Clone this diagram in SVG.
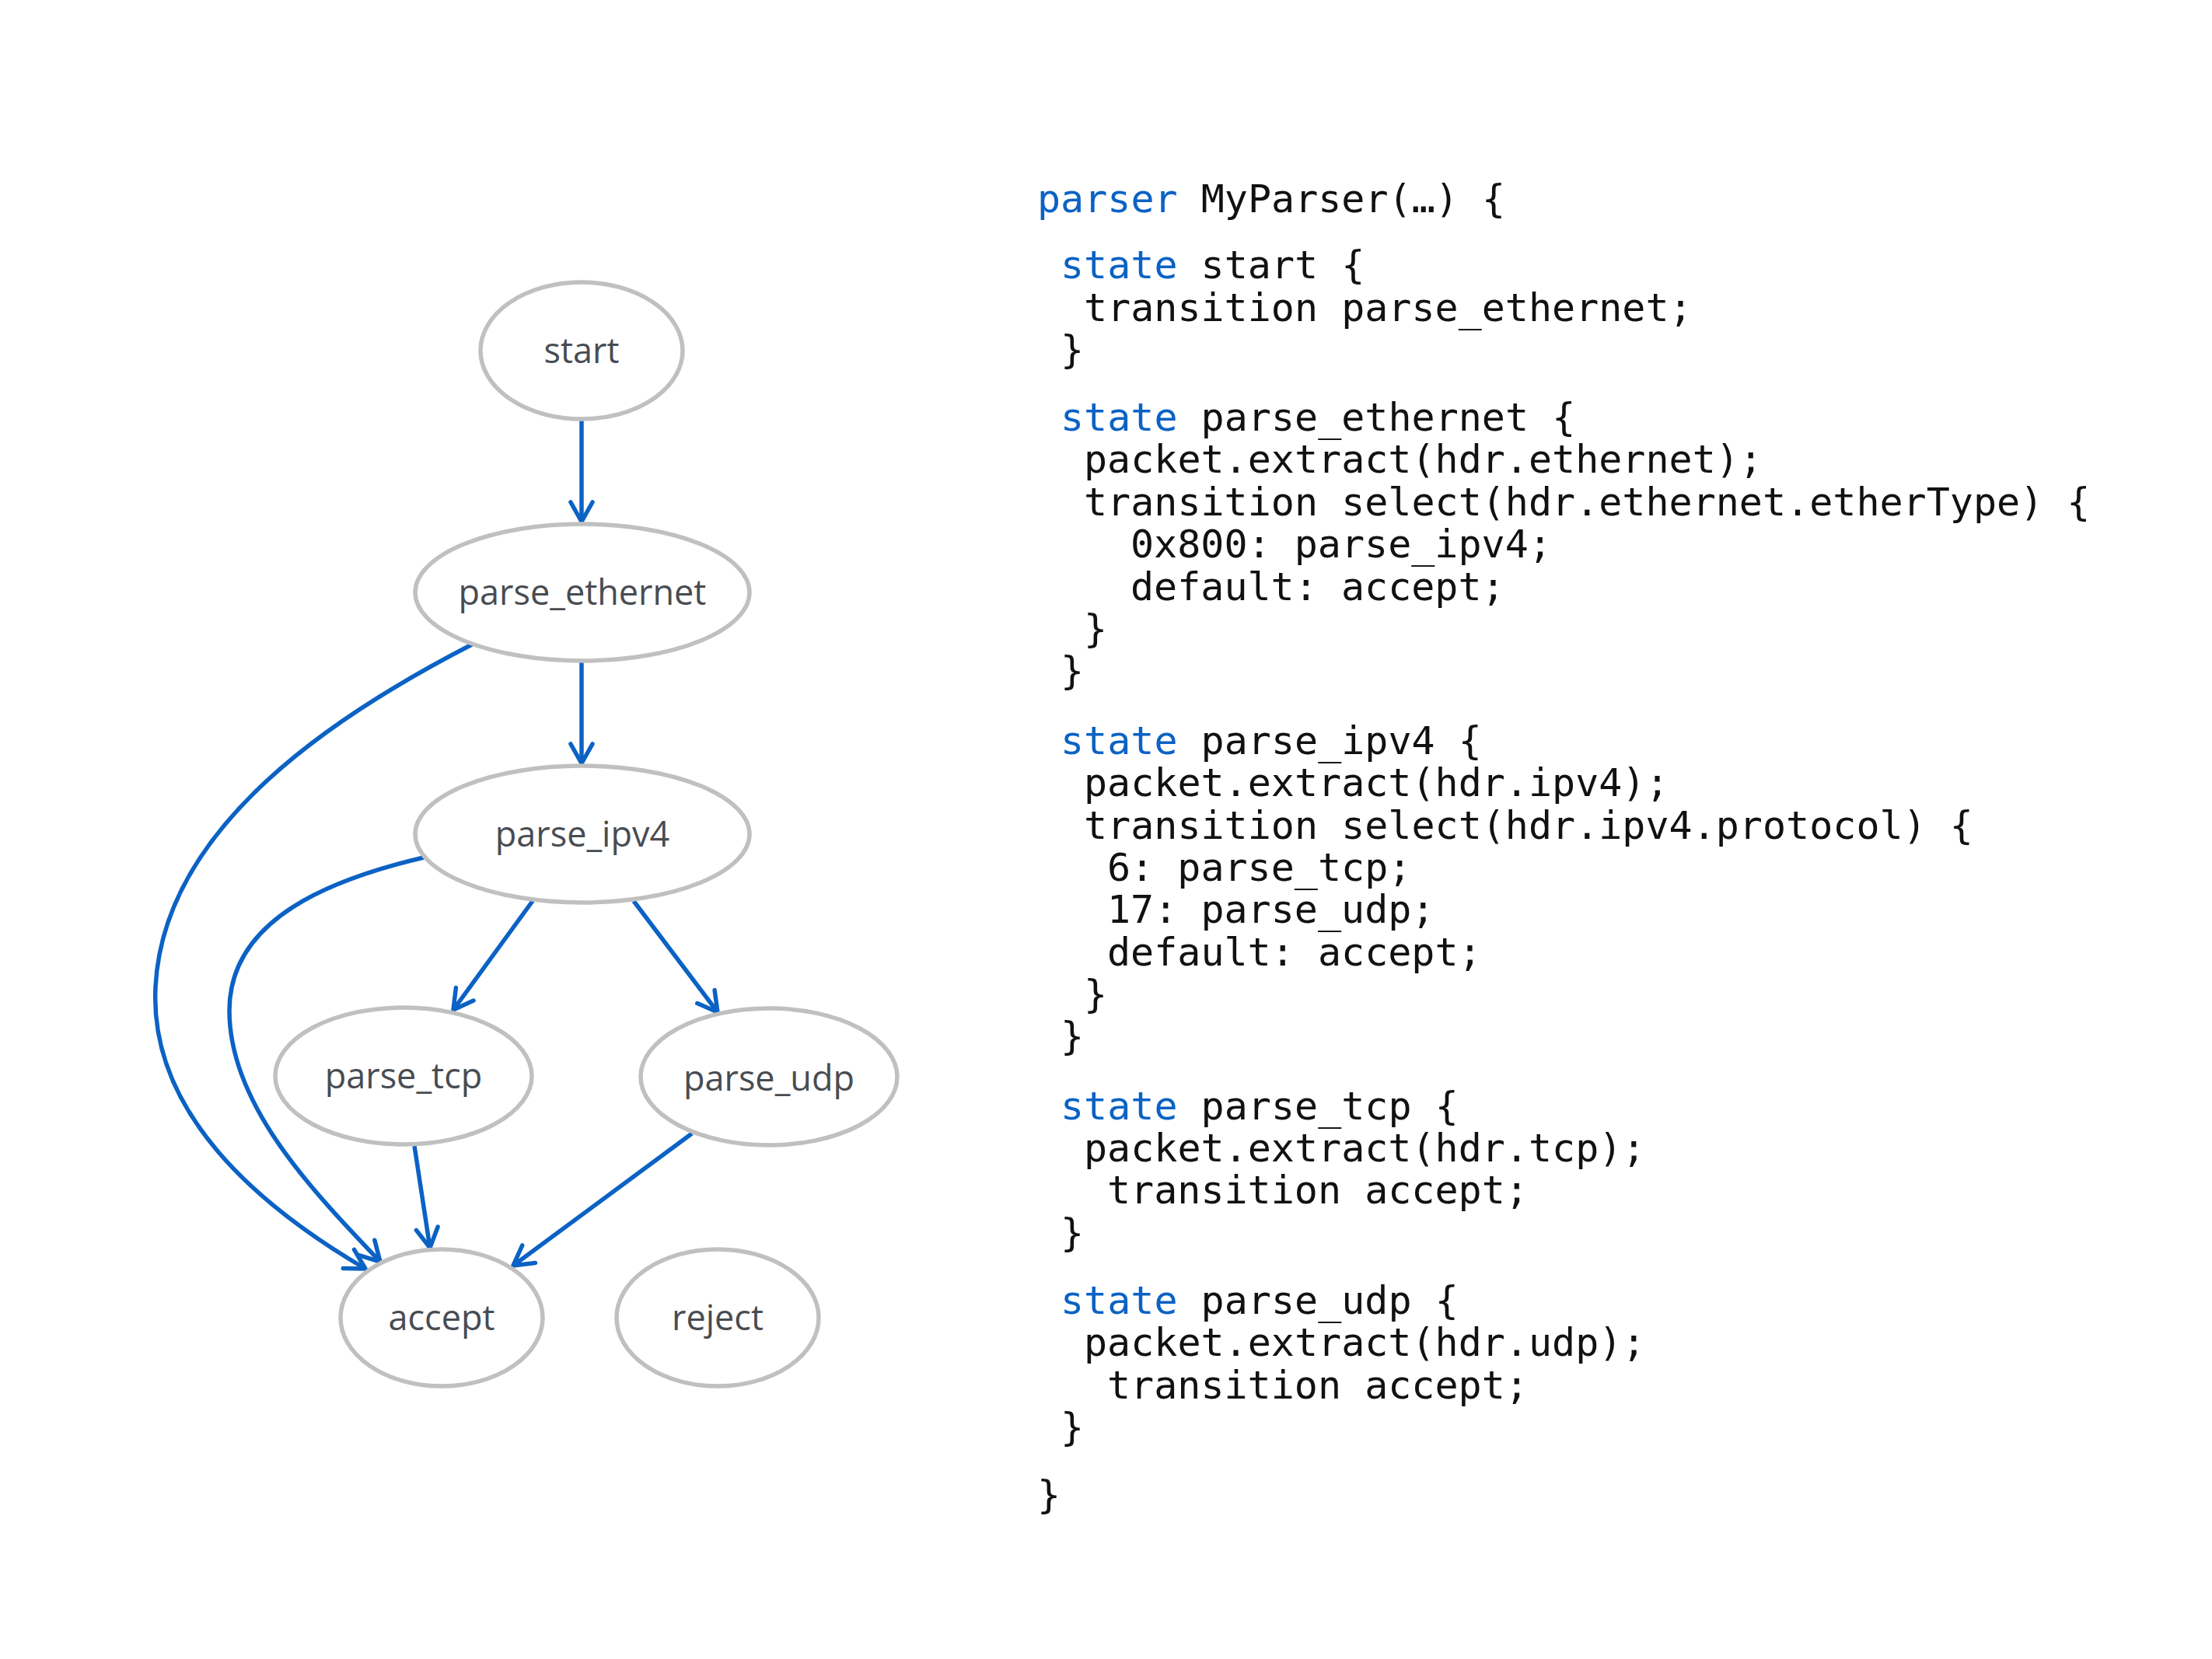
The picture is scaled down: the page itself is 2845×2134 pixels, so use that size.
<svg xmlns="http://www.w3.org/2000/svg" width="2845" height="2134" viewBox="0 0 2845 2134">
<style>
.node ellipse{fill:#ffffff;stroke:#c0c0c0;stroke-width:5.5}
.node text{font-family:"Open Sans","Noto Sans",sans-serif;font-size:45px;fill:#484c52;text-anchor:middle}
.edge{fill:none;stroke:#0b62c4;stroke-width:5.5;marker-end:url(#arr)}
.code{font-family:"DejaVu Sans Mono","Liberation Mono",monospace;font-size:50px;fill:#111111}
.kw{fill:#0b62c4}
</style>
<defs>
<marker id="arr" markerUnits="userSpaceOnUse" markerWidth="60" markerHeight="60" viewBox="-30 -30 60 60" refX="0" refY="0" orient="auto">
<path d="M-25,-14 L0,0 L-25,14" fill="none" stroke="#0b62c4" stroke-width="5.5" stroke-linecap="round" stroke-linejoin="round"/>
</marker>
</defs>
<rect width="2845" height="2134" fill="#ffffff"/>
<g id="connectors">
<path class="edge" d="M748,539 L748,671"/>
<path class="edge" d="M748,850 L748,982"/>
<path class="edge" d="M685,1159 L583,1299"/>
<path class="edge" d="M815,1159 L923,1302"/>
<path class="edge" d="M533,1474 L553,1605"/>
<path class="edge" d="M890,1458 L660,1628"/>
<path class="edge" d="M607,829 C440,915 210,1060 200,1270 C192,1430 330,1550 470,1632"/>
<path class="edge" d="M545,1103 C430,1130 295,1180 295,1300 C295,1420 400,1530 489,1623"/>
</g>
<g id="node-start" class="node"><ellipse cx="748" cy="451" rx="130" ry="88"/><text x="748" y="467">start</text></g>
<g id="node-parse_ethernet" class="node"><ellipse cx="749" cy="762" rx="215" ry="88"/><text x="749" y="778">parse_ethernet</text></g>
<g id="node-parse_ipv4" class="node"><ellipse cx="749" cy="1073" rx="215" ry="88"/><text x="749" y="1089">parse_ipv4</text></g>
<g id="node-parse_tcp" class="node"><ellipse cx="519" cy="1384" rx="165" ry="88"/><text x="519" y="1400">parse_tcp</text></g>
<g id="node-parse_udp" class="node"><ellipse cx="989" cy="1385" rx="165" ry="88"/><text x="989" y="1403">parse_udp</text></g>
<g id="node-accept" class="node"><ellipse cx="568" cy="1695" rx="130" ry="88"/><text x="568" y="1711">accept</text></g>
<g id="node-reject" class="node"><ellipse cx="923" cy="1695" rx="130" ry="88"/><text x="923" y="1711">reject</text></g>
<g id="code" class="code">
<text x="1334" y="273"><tspan class="kw">parser</tspan> MyParser(…) {</text>
<text x="1364" y="358"><tspan class="kw">state</tspan> start {</text>
<text x="1394" y="413">transition parse_ethernet;</text>
<text x="1364" y="467">}</text>
<text x="1364" y="554"><tspan class="kw">state</tspan> parse_ethernet {</text>
<text x="1394" y="608">packet.extract(hdr.ethernet);</text>
<text x="1394" y="663">transition select(hdr.ethernet.etherType) {</text>
<text x="1454" y="717">0x800: parse_ipv4;</text>
<text x="1454" y="772">default: accept;</text>
<text x="1394" y="826">}</text>
<text x="1364" y="880">}</text>
<text x="1364" y="970"><tspan class="kw">state</tspan> parse_ipv4 {</text>
<text x="1394" y="1024">packet.extract(hdr.ipv4);</text>
<text x="1394" y="1079">transition select(hdr.ipv4.protocol) {</text>
<text x="1424" y="1133">6: parse_tcp;</text>
<text x="1424" y="1187">17: parse_udp;</text>
<text x="1424" y="1242">default: accept;</text>
<text x="1394" y="1296">}</text>
<text x="1364" y="1350">}</text>
<text x="1364" y="1440"><tspan class="kw">state</tspan> parse_tcp {</text>
<text x="1394" y="1494">packet.extract(hdr.tcp);</text>
<text x="1424" y="1548">transition accept;</text>
<text x="1364" y="1603">}</text>
<text x="1364" y="1690"><tspan class="kw">state</tspan> parse_udp {</text>
<text x="1394" y="1744">packet.extract(hdr.udp);</text>
<text x="1424" y="1799">transition accept;</text>
<text x="1364" y="1853">}</text>
<text x="1334" y="1940">}</text>
</g>
</svg>
